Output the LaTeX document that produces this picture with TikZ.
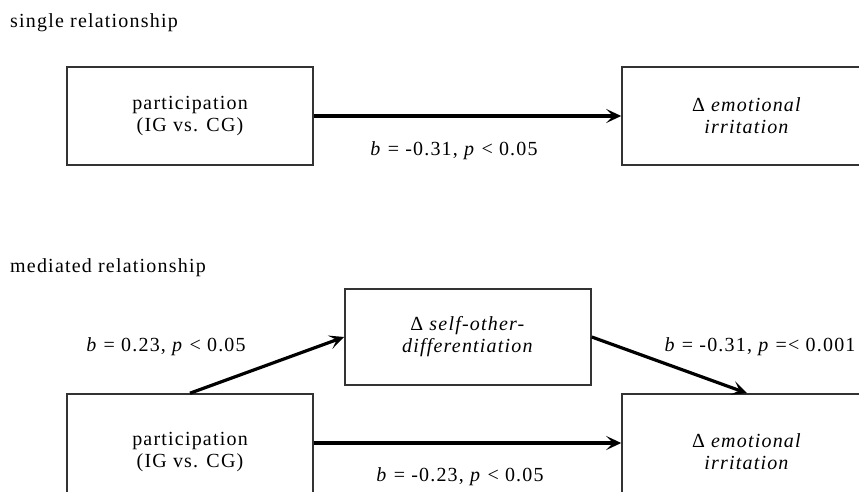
\documentclass[tikz,border=0pt]{standalone}
\usepackage{fontspec}
\setmainfont[LetterSpace=6]{Liberation Serif}
\usetikzlibrary{arrows.meta}
\begin{document}
\begin{tikzpicture}[x=1pt,y=-1pt,
  font=\fontsize{20}{22}\selectfont,
  box/.style={draw=black!80,line width=1.6pt,minimum width=246pt,minimum height=98pt,align=center,inner sep=0pt},
  tallbox/.style={box,minimum height=116pt},
  conn/.style={line width=3.2pt,-{Stealth[length=15pt,width=14pt,inset=7pt]}},
  lbl/.style={inner sep=0pt,anchor=base},
  head/.style={inner sep=0pt,anchor=base west}]
\useasboundingbox (0,0) rectangle (859,492);
\node[head] (h1) at (10,28) {single relationship};
\node[box] (t1) at (190,116) {participation\\(IG vs. CG)};
\node[box,minimum width=250pt] (t2) at (747,116) {Δ \textit{emotional}\\\textit{irritation}};
\draw[conn] (t1.east) -- (t2.west);
\node[lbl] (l1) at (454,155) {\textit{b} = -0.31, \textit{p} < 0.05};

\node[head] (h2) at (10,272) {mediated relationship};
\node[box,minimum height=96pt] (m) at (468,337) {Δ \textit{self-other-}\\\textit{differentiation}};
\node[tallbox] (b1) at (190,452) {participation\\(IG vs. CG)};
\node[tallbox,minimum width=250pt] (b2) at (747,452) {Δ \textit{emotional}\\\textit{irritation}};
\draw[conn] (b1.north) -- (m.west);
\draw[conn] (m.east) -- (b2.north);
\draw[conn] ([yshift=9pt]b1.east) -- ([yshift=9pt]b2.west);
\node[lbl] (l2) at (166,351) {\textit{b} = 0.23, \textit{p} < 0.05};
\node[lbl] (l3) at (760,351) {\textit{b} = -0.31, \textit{p} =< 0.001};
\node[lbl] (l4) at (460,481) {\textit{b} = -0.23, \textit{p} < 0.05};
\end{tikzpicture}
\end{document}
